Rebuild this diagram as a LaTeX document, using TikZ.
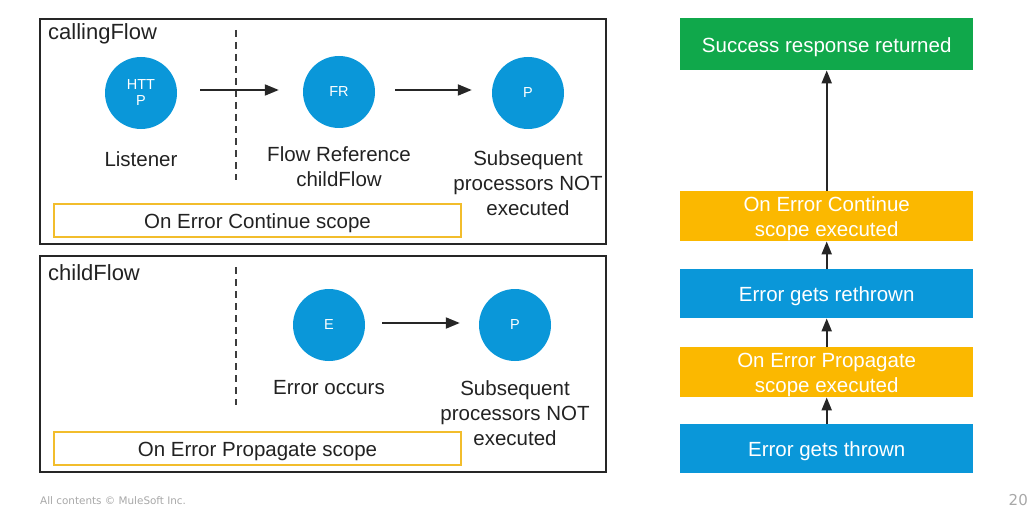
\documentclass[tikz,border=0pt]{standalone}
\usepackage{fontspec}
\setmainfont{Liberation Sans}
\newfontfamily\footfont{DejaVu Sans}
\usetikzlibrary{arrows.meta}

\definecolor{muleblue}{HTML}{0A97D9}
\definecolor{muleyellow}{HTML}{FBB800}
\definecolor{mulegreen}{HTML}{10A84B}
\definecolor{scopeedge}{HTML}{F2BD2C}
\definecolor{frameedge}{HTML}{262626}
\definecolor{inktext}{HTML}{222222}
\definecolor{footgray}{HTML}{A8A8A8}

% box text set a little below the optical centre
\newcommand{\sinktext}[1]{\raisebox{-3pt}[\height][\depth]{\begin{tabular}{@{}c@{}}#1\end{tabular}}}

\tikzset{
  x=1pt, y=-1pt,
  flowframe/.style={draw=frameedge, line width=1.8pt},
  flowname/.style={anchor=west, text=inktext, font=\fontsize{22}{25}\selectfont, inner sep=0pt},
  proc/.style={circle, fill=muleblue, minimum size=72pt, inner sep=0pt, text=white,
               font=\fontsize{14.5}{15}\selectfont, align=center},
  caption/.style={text=inktext, font=\fontsize{20.5}{25}\selectfont, align=center, inner sep=0pt},
  scopebox/.style={draw=scopeedge, line width=2pt, minimum width=407pt, minimum height=33pt,
                   text=inktext, font=\fontsize{20.5}{25}\selectfont, anchor=north west, inner sep=0pt},
  divider/.style={draw=frameedge!90, line width=2pt, dash pattern=on 7pt off 5pt},
  flowarrow/.style={draw=frameedge, line width=2pt, -{Triangle[length=14pt,width=11pt]}},
  stepbox/.style={minimum width=293pt, text=white, font=\fontsize{20.5}{25}\selectfont,
                  inner sep=0pt, anchor=north west},
  uparrow/.style={draw=frameedge, line width=2pt, -{Triangle[length=13pt,width=10pt]}},
}

\begin{document}
\begin{tikzpicture}
\useasboundingbox (0,0) rectangle (1032,516);

% ---- callingFlow ----
\draw[flowframe] (40,19) rectangle (606,244);
\node[flowname] (callname) at (48,34) {callingFlow};
\coordinate (cdivtop) at (236,30);
\coordinate (cdivbot) at (236,180);
\draw[divider] (cdivtop) -- (cdivbot);

\node[proc] (http) at (141,93) {HTT\\[1pt]P};
\node[proc] (fr) at (339,92) {FR};
\node[proc] (cp) at (528,93) {P};

\draw[flowarrow, shorten <=23pt, shorten >=24pt] (http.east |- 0,90) -- (fr.west |- 0,90);
\draw[flowarrow, shorten <=20pt, shorten >=20pt] (fr.east |- 0,90) -- (cp.west |- 0,90);

\node[caption] (listener) at (141,159) {Listener};
\node[caption] (frlabel) at (339,167) {Flow Reference\\childFlow};
\node[caption] (cplabel) at (528,183) {Subsequent\\processors NOT\\executed};

\node[scopebox] (oec) at (53,203) {\sinktext{On Error Continue scope}};

% ---- childFlow ----
\draw[flowframe] (40,256) rectangle (606,472);
\node[flowname] (childname) at (48,273) {childFlow};
\coordinate (ddivtop) at (236,267);
\coordinate (ddivbot) at (236,405);
\draw[divider] (ddivtop) -- (ddivbot);

\node[proc] (err) at (329,325) {E};
\node[proc] (dp) at (515,325) {P};
\draw[flowarrow, shorten <=17pt, shorten >=19pt] (err.east |- 0,323) -- (dp.west |- 0,323);

\node[caption] (errlabel) at (329,388) {Error occurs};
\node[caption] (dplabel) at (515,413) {Subsequent\\processors NOT\\executed};

\node[scopebox] (oep) at (53,431) {\sinktext{On Error Propagate scope}};

% ---- outcome column ----
\node[stepbox, fill=mulegreen, minimum height=52pt] (success) at (680,18) {\sinktext{Success response returned}};
\node[stepbox, fill=muleyellow, minimum height=49pt] (contdone) at (680,191) {\sinktext{On Error Continue\\scope executed}};
\node[stepbox, fill=muleblue, minimum height=49pt] (rethrown) at (680,269) {\sinktext{Error gets rethrown}};
\node[stepbox, fill=muleyellow, minimum height=49pt] (propdone) at (680,347) {\sinktext{On Error Propagate\\scope executed}};
\node[stepbox, fill=muleblue, minimum height=49pt] (thrown) at (680,424) {\sinktext{Error gets thrown}};

\draw[uparrow] (thrown) -- (propdone);
\draw[uparrow] (propdone) -- (rethrown);
\draw[uparrow] (rethrown) -- (contdone);
\draw[uparrow] (contdone) -- (success);

% ---- footer ----
\node[anchor=west, text=footgray, font=\footfont\fontsize{10.4}{12}\selectfont, inner sep=0pt] (copy) at (40,501) {All contents © MuleSoft Inc.};
\node[anchor=east, text=footgray, font=\footfont\fontsize{15}{17}\selectfont, inner sep=0pt] (pagenum) at (1028,500) {20};
\end{tikzpicture}
\end{document}
